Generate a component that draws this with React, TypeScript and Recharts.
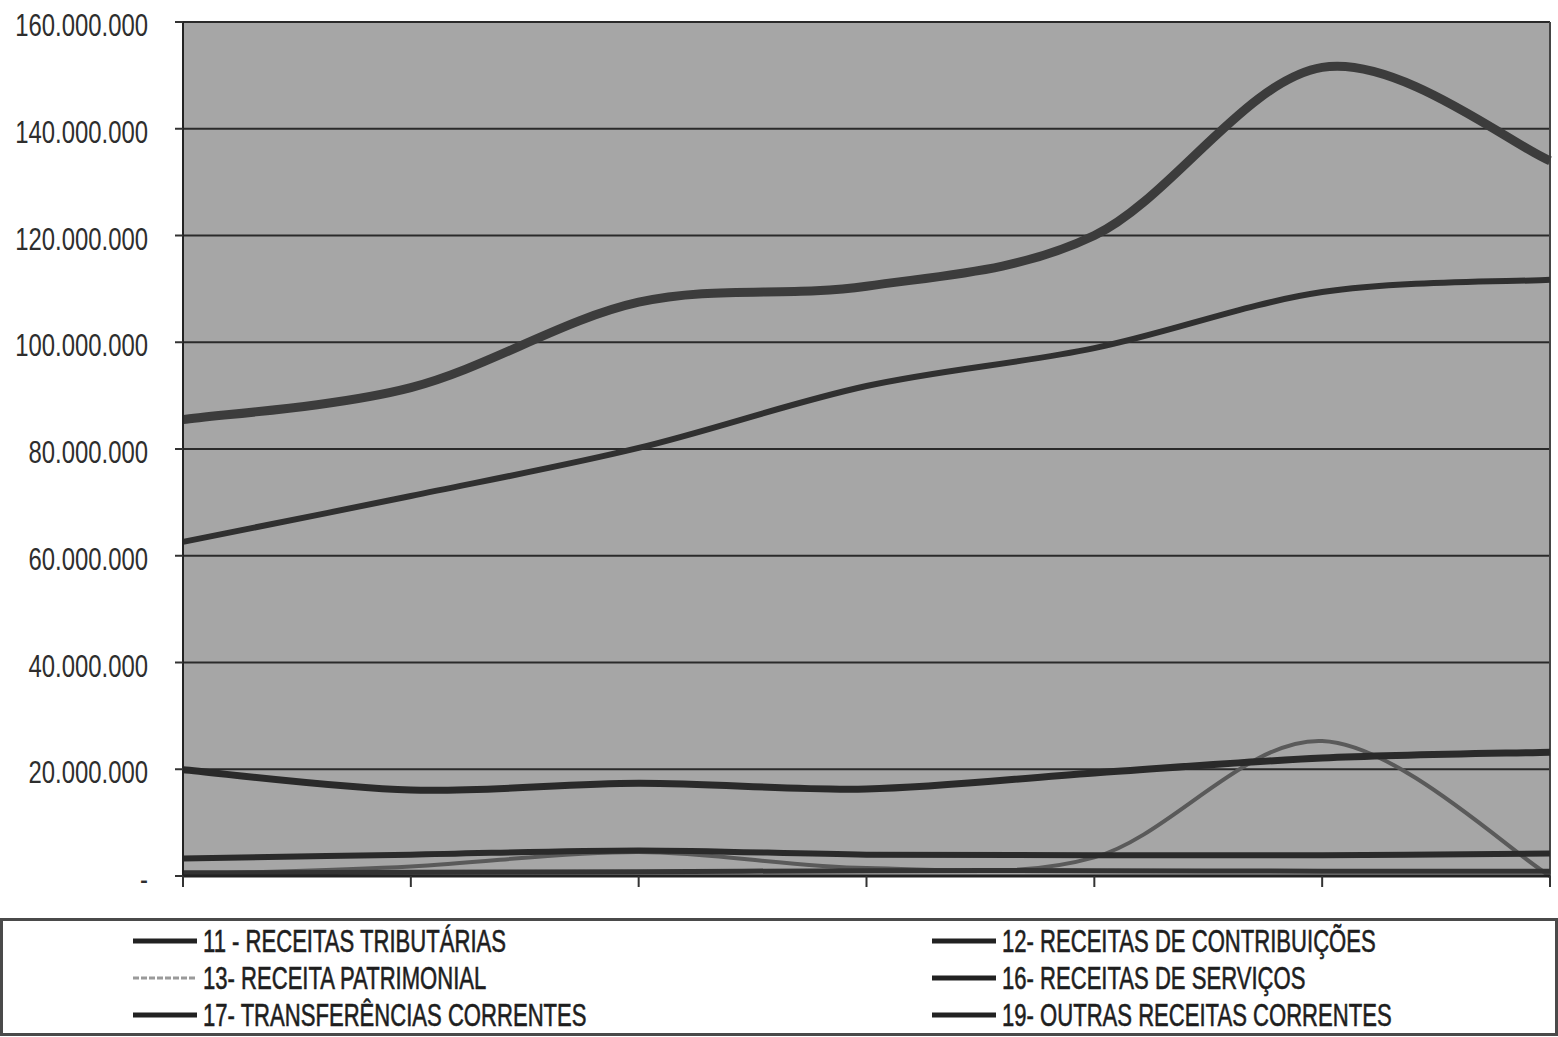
import { CartesianGrid, Line, LineChart, ReferenceLine, XAxis, YAxis } from 'recharts';

// exercícios (sem rótulo no eixo)
const periodos = ['1', '2', '3', '4', '5', '6', '7'];

// valores em R$
const tributarias = [62600000, 71200000, 80200000, 91800000, 98900000, 109400000, 111700000];
const contribuicoes = [19900000, 16100000, 17400000, 16300000, 19300000, 22100000, 23200000];
const patrimonial = [300000, 1800000, 4500000, 1500000, 3500000, 25300000, 0];
const servicos = [600000, 700000, 800000, 1000000, 1000000, 900000, 900000];
const transferencias = [85500000, 91500000, 107500000, 110500000, 120000000, 151500000, 134000000];
const outras = [3300000, 4000000, 4800000, 4000000, 3900000, 3900000, 4200000];

const yTicks = [0, 20000000, 40000000, 60000000, 80000000, 100000000, 120000000, 140000000, 160000000];

const series = [
  { key: 'r11', name: '11 - RECEITAS TRIBUTÁRIAS', values: tributarias, color: '#303030', width: 6 },
  { key: 'r12', name: '12- RECEITAS DE CONTRIBUIÇÕES', values: contribuicoes, color: '#2a2a2a', width: 7 },
  { key: 'r13', name: '13- RECEITA PATRIMONIAL', values: patrimonial, color: '#5a5a5a', width: 4 },
  { key: 'r16', name: '16- RECEITAS DE SERVIÇOS', values: servicos, color: '#333333', width: 5 },
  { key: 'r17', name: '17- TRANSFERÊNCIAS CORRENTES', values: transferencias, color: '#3c3c3c', width: 9 },
  { key: 'r19', name: '19- OUTRAS RECEITAS CORRENTES', values: outras, color: '#2a2a2a', width: 6 },
];

// draw the light series underneath the others
const drawOrder = ['r13', 'r16', 'r19', 'r12', 'r11', 'r17'];
const legendCols = [['r11', 'r13', 'r17'], ['r12', 'r16', 'r19']];

const data = periodos.map((p, i) => {
  const row: Record<string, string | number> = { periodo: p };
  series.forEach((s) => {
    row[s.key] = s.values[i];
  });
  return row;
});

// spreadsheet-style smoothed line (Catmull-Rom through every point, ends clamped)
function smoothCurve(context: any) {
  let pts: [number, number][] = [];
  return {
    areaStart() {},
    areaEnd() {},
    lineStart() {
      pts = [];
    },
    point(x: number, y: number) {
      pts.push([+x, +y]);
    },
    lineEnd() {
      if (!pts.length) return;
      context.moveTo(pts[0][0], pts[0][1]);
      for (let i = 0; i < pts.length - 1; i++) {
        const p0 = pts[Math.max(i - 1, 0)];
        const p1 = pts[i];
        const p2 = pts[i + 1];
        const p3 = pts[Math.min(i + 2, pts.length - 1)];
        context.bezierCurveTo(
          p1[0] + (p2[0] - p0[0]) / 6,
          p1[1] + (p2[1] - p0[1]) / 6,
          p2[0] - (p3[0] - p1[0]) / 6,
          p2[1] - (p3[1] - p1[1]) / 6,
          p2[0],
          p2[1]
        );
      }
    },
  };
}

const fmt = (v: number) => (v === 0 ? '-' : String(v).replace(/\B(?=(\d{3})+(?!\d))/g, '.'));

const FONT = '"Liberation Sans", Arial, sans-serif';

const YTick = (props: any) => {
  const { y, payload } = props;
  return (
    <text
      transform={`translate(148, ${y + 14}) scale(0.77, 1)`}
      textAnchor='end'
      fontFamily={FONT}
      fontSize={31}
      fill='#2e2e2e'>
      {fmt(payload.value)}
    </text>
  );
};

const byKey = (k: string) => series.find((s) => s.key === k)!;

export default function App() {
  return (
    <div style={{ position: 'absolute', left: 0, top: 0, width: 1558, height: 1037, background: '#fff' }}>
      <LineChart width={1558} height={918} data={data} margin={{ top: 22, right: 8, bottom: 12, left: 0 }}>
        <CartesianGrid vertical={false} stroke='#2a2a2a' strokeWidth={2} fill='#a6a6a6' fillOpacity={1} />
        <XAxis
          dataKey='periodo'
          height={30}
          tickFormatter={() => ''}
          tickSize={11}
          axisLine={{ stroke: '#222', strokeWidth: 3 }}
          tickLine={{ stroke: '#333', strokeWidth: 2 }}
        />
        <YAxis
          width={183}
          domain={[0, 160000000]}
          ticks={yTicks}
          interval={0}
          tickSize={8}
          tick={<YTick />}
          axisLine={{ stroke: '#222', strokeWidth: 2 }}
          tickLine={{ stroke: '#333', strokeWidth: 2 }}
        />
        <ReferenceLine x={periodos[periodos.length - 1]} stroke='#444' strokeWidth={2} />
        {drawOrder.map((k) => {
          const s = byKey(k);
          return (
            <Line
              key={s.key}
              dataKey={s.key}
              name={s.name}
              type={smoothCurve as any}
              stroke={s.color}
              strokeWidth={s.width}
              dot={false}
              activeDot={false}
              isAnimationActive={false}
            />
          );
        })}
      </LineChart>
      <svg
        width={1558}
        height={119}
        style={{ position: 'absolute', left: 0, top: 918 }}>
        <rect x={1.5} y={1.5} width={1555} height={115} fill='#fff' stroke='#4a4a4a' strokeWidth={3} />
        {legendCols.map((col, ci) =>
          col.map((k, ri) => {
            const s = byKey(k);
            const lx = ci === 0 ? 133 : 932;
            const cy = 23 + ri * 37;
            return (
              <g key={k}>
                <line
                  x1={lx}
                  x2={lx + 64}
                  y1={cy}
                  y2={cy}
                  stroke={k === 'r13' ? '#9a9a9a' : '#222'}
                  strokeWidth={k === 'r13' ? 3 : 5}
                  strokeDasharray={k === 'r13' ? '6 2' : undefined}
                />
                <text
                  transform={`translate(${lx + 70}, ${cy + 11}) scale(0.69, 1)`}
                  fontFamily={FONT}
                  fontSize={32}
                  fill='#1e1e1e'
                  stroke='#1e1e1e'
                  strokeWidth={0.6}>
                  {s.name}
                </text>
              </g>
            );
          })
        )}
      </svg>
    </div>
  );
}
